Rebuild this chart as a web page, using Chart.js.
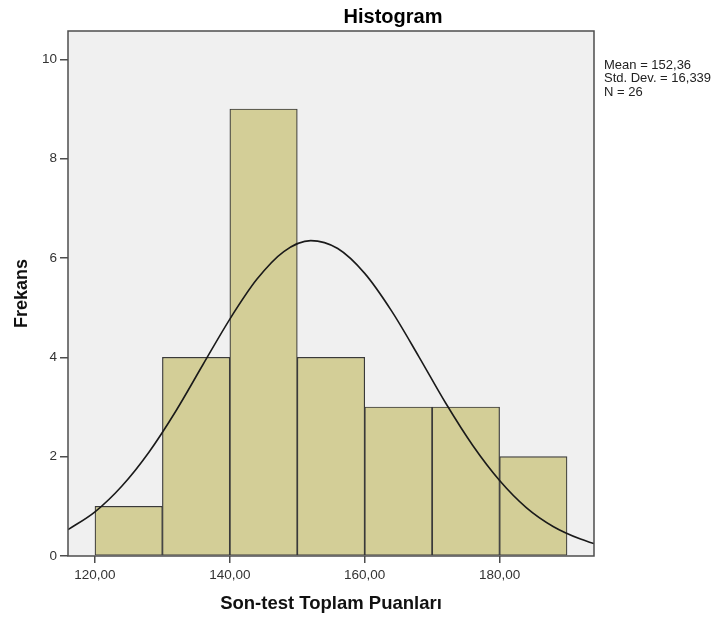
<!DOCTYPE html>
<html>
<head>
<meta charset="utf-8">
<title>Histogram</title>
<script src="https://cdn.jsdelivr.net/npm/chart.js@4.4.1/dist/chart.umd.min.js"></script>
<style>
    html, body { margin: 0; padding: 0; background: #fff; }
    #wrap { width: 719px; height: 619px; position: relative; }
</style>
</head>
<body>
<div id="wrap"><canvas id="histChart"></canvas></div>
<script>
// histogram bins (center of each 10-point bin) and frequencies
const binCenters = [125, 135, 145, 155, 165, 175, 185];
const frequencies = [1, 4, 9, 4, 3, 3, 2];

// normal curve
const curveX = [116, 120, 124, 128, 132, 136, 140, 144, 148, 152, 156, 160, 164, 168, 172, 176, 180, 184, 188, 192, 194];
const curveY = [0.53, 0.89, 1.41, 2.09, 2.92, 3.85, 4.77, 5.57, 6.13, 6.35, 6.19, 5.69, 4.93, 4.02, 3.08, 2.23, 1.52, 0.97, 0.59, 0.34, 0.25];

const xTicks = [120, 140, 160, 180];
const yTicks = [0, 2, 4, 6, 8, 10];

const statLines = ['Mean = 152,36', 'Std. Dev. = 16,339', 'N = 26'];

Chart.defaults.font.family = "'Liberation Sans', Arial, sans-serif";
Chart.defaults.color = '#333';

const AXIS_COLOR = '#4d4d4d';

// plot background + frame + texts
const spssFrame = {
    id: 'spssFrame',
    beforeDraw(chart) {
        const { ctx, chartArea: a } = chart;
        ctx.save();
        ctx.fillStyle = '#f0f0f0';
        ctx.fillRect(a.left, a.top, a.right - a.left, a.bottom - a.top);
        ctx.restore();
    },
    afterDraw(chart) {
        const { ctx, chartArea: a } = chart;
        ctx.save();
        ctx.strokeStyle = AXIS_COLOR;
        ctx.lineWidth = 1.5;
        ctx.strokeRect(a.left, a.top, a.right - a.left, a.bottom - a.top);

        ctx.fillStyle = '#000';
        ctx.font = "bold 20px 'Liberation Sans', Arial, sans-serif";
        ctx.textAlign = 'center';
        ctx.textBaseline = 'alphabetic';
        ctx.fillText('Histogram', 393, 23);

        ctx.fillStyle = '#222';
        ctx.font = "13px 'Liberation Sans', Arial, sans-serif";
        ctx.textAlign = 'left';
        statLines.forEach((t, i) => ctx.fillText(t, 604, 69 + i * 13.3));
        ctx.restore();
    }
};

const ctx = document.getElementById('histChart').getContext('2d');

new Chart(ctx, {
    type: 'bar',
    data: {
        datasets: [
            {
                type: 'line',
                data: curveX.map((x, i) => ({ x: x, y: curveY[i] })),
                borderColor: '#1a1a1a',
                borderWidth: 1.6,
                pointRadius: 0,
                cubicInterpolationMode: 'monotone',
                fill: false,
                order: 0
            },
            {
                type: 'bar',
                data: binCenters.map((x, i) => ({ x: x, y: frequencies[i] })),
                backgroundColor: '#d3ce97',
                borderColor: '#3a3a3a',
                borderWidth: 1.2,
                borderSkipped: false,
                barPercentage: 1,
                categoryPercentage: 1,
                order: 1
            }
        ]
    },
    options: {
        responsive: true,
        maintainAspectRatio: false,
        animation: false,
        layout: { padding: { top: 31, right: 125, left: 0, bottom: 0 } },
        plugins: {
            legend: { display: false },
            tooltip: { enabled: false }
        },
        scales: {
            x: {
                type: 'linear',
                min: 116,
                max: 194,
                offset: false,
                afterBuildTicks: s => { s.ticks = xTicks.map(v => ({ value: v })); },
                afterFit: s => { s.height = 63; },
                grid: { offset: false, drawOnChartArea: false, tickLength: 7, color: AXIS_COLOR, lineWidth: 1.5 },
                border: { display: false },
                ticks: {
                    padding: 4,
                    maxRotation: 0,
                    font: { size: 13.5 },
                    callback: v => v.toFixed(2).replace('.', ',')
                },
                title: {
                    display: true,
                    text: 'Son-test Toplam Puanları',
                    color: '#111',
                    font: { size: 18.5, weight: 'bold' },
                    padding: { top: 0, bottom: 4 }
                }
            },
            y: {
                min: 0,
                max: 10.57,
                afterBuildTicks: s => { s.ticks = yTicks.map(v => ({ value: v })); },
                afterFit: s => { s.width = 68; },
                grid: { drawOnChartArea: false, tickLength: 8, color: AXIS_COLOR, lineWidth: 1.5 },
                border: { display: false },
                ticks: { padding: 3, font: { size: 13.5 } },
                title: {
                    display: true,
                    text: 'Frekans',
                    color: '#111',
                    font: { size: 18, weight: 'bold' },
                    padding: { top: 11, bottom: 0 }
                }
            }
        }
    },
    plugins: [spssFrame]
});
</script>
</body>
</html>
